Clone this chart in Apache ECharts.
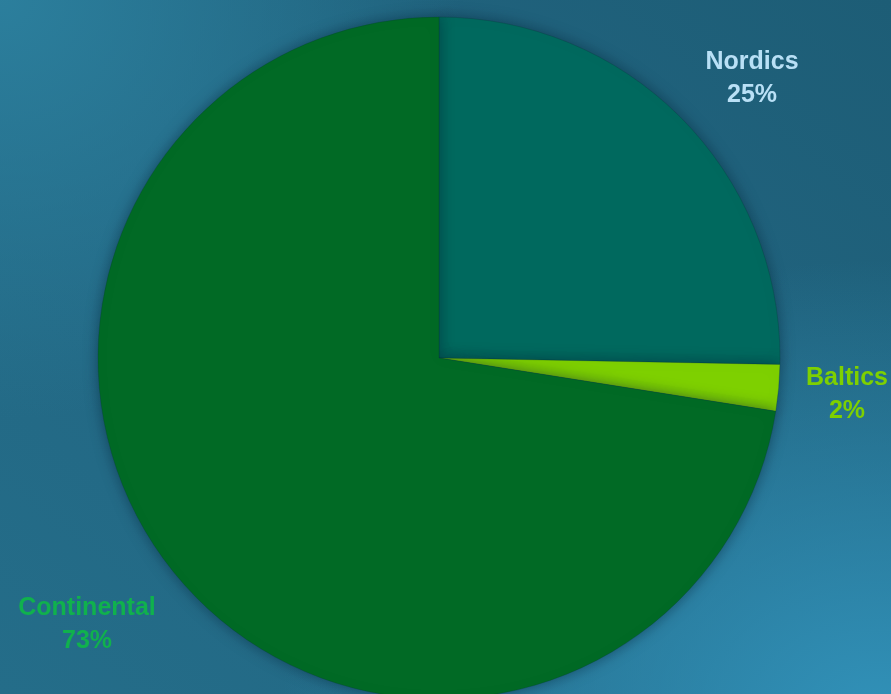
<!DOCTYPE html>
<html>
<head>
<meta charset="utf-8">
<script src="https://cdn.jsdelivr.net/npm/echarts@6/dist/echarts.min.js"></script>
<style>
html,body{margin:0;padding:0;width:891px;height:694px;overflow:hidden;}
#bg{position:absolute;left:0;top:0;width:891px;height:694px;
background:
 radial-gradient(ellipse 600px 460px at 880px 720px, rgba(50,148,188,0.95), rgba(50,148,188,0) 100%),
 radial-gradient(ellipse 460px 420px at 0px 0px, rgba(44,128,158,0.95), rgba(44,128,158,0) 100%),
 linear-gradient(to bottom left, #1d5d76 0%, #226682 50%, #246d89 100%);}
#chart{position:absolute;left:0;top:0;width:891px;height:694px;}
</style>
</head>
<body>
<div id="bg"></div>
<div id="chart"></div>
<script>
const categories = ['Nordics', 'Baltics', 'Continental'];
const values = [25.3, 2.2, 72.5];
const sliceColors = ['#00695e', '#7ed000', '#016a25'];
const labelColors = ['#b9e0f6', '#7ed000', '#10b14d'];
const labelPos = [[752, 79], [847, 395], [87, 625]];

const chart = echarts.init(document.getElementById('chart'), null, {renderer: 'canvas'});
chart.setOption({
  backgroundColor: 'transparent',
  animation: false,
  series: [{
    type: 'pie',
    center: [439, 358],
    radius: 341,
    startAngle: 90,
    clockwise: true,
    data: categories.map((c, i) => ({
      name: c, value: values[i],
      itemStyle: {color: sliceColors[i]},
      label: {color: labelColors[i]}
    })),
    itemStyle: {
      borderColor: 'rgba(0,60,50,0.5)', borderWidth: 0.5,
      shadowBlur: 14, shadowColor: 'rgba(10,40,60,0.55)'
    },
    label: {
      show: true,
      position: 'outside',
      formatter: '{b}\n{d}%',
      fontFamily: 'Liberation Sans, Arial, sans-serif',
      fontWeight: 'bold',
      fontSize: 25,
      lineHeight: 33,
      align: 'center',
      overflow: 'none',
      width: 200
    },
    percentPrecision: 0,
    labelLine: {show: false},
    labelLayout: function (params) {
      const p = labelPos[params.dataIndex];
      return {x: p[0], y: p[1], align: 'center', verticalAlign: 'middle'};
    }
  }]
});
</script>
</body>
</html>
